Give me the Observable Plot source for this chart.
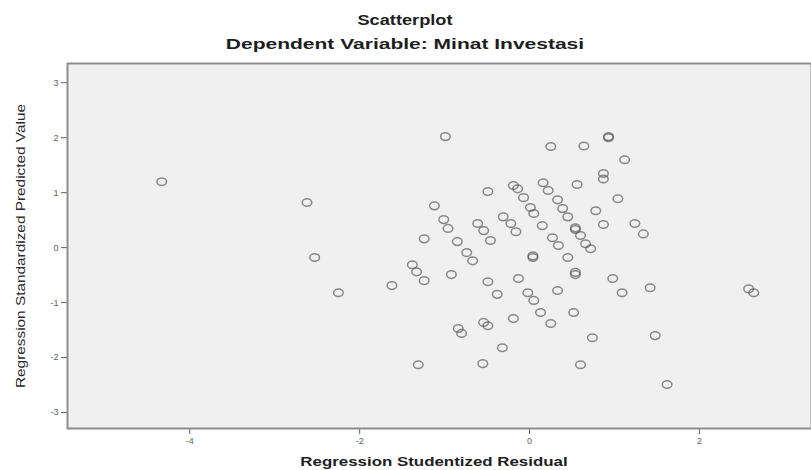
<!DOCTYPE html>
<html><head><meta charset="utf-8">
<script src="https://cdn.jsdelivr.net/npm/d3@7"></script>
<script src="https://cdn.jsdelivr.net/npm/@observablehq/plot@0.6"></script>
<style>
body{margin:0;background:#fff;font-family:"Liberation Sans",Arial,sans-serif;}
#wrap{position:relative;width:811px;height:470px;overflow:hidden;background:#fff;}
.lbl{position:absolute;white-space:nowrap;color:#1e1e1e;line-height:1;}
#title{left:405px;top:13px;font-size:14px;font-weight:bold;transform:translateX(-50%) scaleX(1.3);}
#subtitle{left:405px;top:37px;font-size:14px;font-weight:bold;transform:translateX(-50%) scaleX(1.5);}
#xlabel{left:434px;top:456px;font-size:12.5px;font-weight:bold;transform:translateX(-50%) scaleX(1.35);}
#ylabel{left:21px;top:246px;font-size:12px;color:#2a2a2a;transform:translate(-50%,-50%) rotate(-90deg) scaleX(1.28);}
#chart{position:absolute;left:0;top:0;}
</style></head><body>
<div id="wrap">
  <div id="chart"></div>
  <div class="lbl" id="title">Scatterplot</div>
  <div class="lbl" id="subtitle">Dependent Variable: Minat Investasi</div>
  <div class="lbl" id="xlabel">Regression Studentized Residual</div>
  <div class="lbl" id="ylabel">Regression Standardized Predicted Value</div>
</div>
<script>
// Regression Studentized Residual (x)
const resid = [
 -4.33, -2.62, -2.53, -2.25, -1.62,
 -0.99, -1.12, -1.01, -0.96, -1.24, -0.85, -0.74, -0.67, -1.38, -1.33, -1.24, -0.92,
 -0.61, -0.54, -0.46, -0.49, -0.19, -0.14, -0.07, -0.31, -0.22, -0.16, 0.01, 0.05,
 0.16, 0.22, 0.25, 0.64, 0.93, 0.93, 0.56, 0.33, 0.39, 0.45, 0.78, 0.15, 0.54, 0.54,
 0.60, 0.27, 0.34, 0.66, 0.72, 0.04, 0.04, 0.45, 0.54, 0.54, 0.87, 1.24, 1.34, 1.04,
 1.12, 0.87, 0.87,
 -0.49, -0.13, -0.38, -0.02, 0.05, 0.33, 0.13, 0.25, 0.52, -0.19, -0.54, -0.49,
 -0.84, -0.80, -0.32, -1.31, -0.55, 0.60, 0.74, 1.48, 1.62, 0.98, 1.09, 1.42, 2.58, 2.64
];
// Regression Standardized Predicted Value (y)
const pred = [
 1.20, 0.82, -0.18, -0.82, -0.69,
 2.02, 0.76, 0.51, 0.35, 0.16, 0.11, -0.09, -0.24, -0.31, -0.44, -0.60, -0.49,
 0.44, 0.31, 0.13, 1.02, 1.13, 1.07, 0.91, 0.56, 0.44, 0.29, 0.73, 0.62,
 1.18, 1.04, 1.84, 1.85, 2.02, 2.00, 1.15, 0.87, 0.71, 0.56, 0.67, 0.40, 0.36, 0.33,
 0.22, 0.18, 0.04, 0.07, -0.02, -0.15, -0.18, -0.18, -0.45, -0.49, 0.42, 0.44, 0.25, 0.89,
 1.60, 1.35, 1.25,
 -0.62, -0.56, -0.85, -0.82, -0.96, -0.78, -1.18, -1.38, -1.18, -1.29, -1.36, -1.42,
 -1.47, -1.56, -1.82, -2.13, -2.11, -2.13, -1.64, -1.60, -2.49, -0.56, -0.82, -0.73, -0.75, -0.82
];
const xTicks = [-4, -2, 0, 2];
const xTickLabels = ["-4", "-2", "0", "2"];
const yTicks = [-3, -2, -1, 0, 1, 2, 3];
const yTickLabels = ["-3", "-2", "-1", "0", "1", "2", "3"];

const data = resid.map((r, i) => ({resid: r, pred: pred[i]}));

const ellipse = {
  draw(ctx) {
    const rx = 4.8, ry = 3.8, k = 0.5523;
    ctx.moveTo(rx, 0);
    ctx.bezierCurveTo(rx, ry * k, rx * k, ry, 0, ry);
    ctx.bezierCurveTo(-rx * k, ry, -rx, ry * k, -rx, 0);
    ctx.bezierCurveTo(-rx, -ry * k, -rx * k, -ry, 0, -ry);
    ctx.bezierCurveTo(rx * k, -ry, rx, -ry * k, rx, 0);
    ctx.closePath();
  }
};

const chart = Plot.plot({
  width: 811,
  height: 470,
  marginLeft: 67,
  marginTop: 63,
  marginBottom: 42,
  marginRight: 0,
  style: {background: "transparent", color: "#606060", fontSize: "9px", fontFamily: "'Liberation Sans', Arial, sans-serif"},
  x: {domain: [-5.44, 3.32], ticks: xTicks, tickFormat: d => xTickLabels[xTicks.indexOf(d)], tickSize: 6, tickPadding: 3, label: null},
  y: {domain: [-3.29, 3.35], ticks: yTicks, tickFormat: d => yTickLabels[yTicks.indexOf(d)], tickSize: 6, tickPadding: 3, label: null},
  marks: [
    Plot.frame({fill: "#f0f0f0", stroke: "#8e8e8e", strokeWidth: 2}),
    Plot.dot(data, {x: "resid", y: "pred", symbol: ellipse, r: 4.5, fill: "none", stroke: "#505050", strokeOpacity: 0.65, strokeWidth: 1.5})
  ]
});
document.getElementById("chart").appendChild(chart);
</script>
</body></html>
